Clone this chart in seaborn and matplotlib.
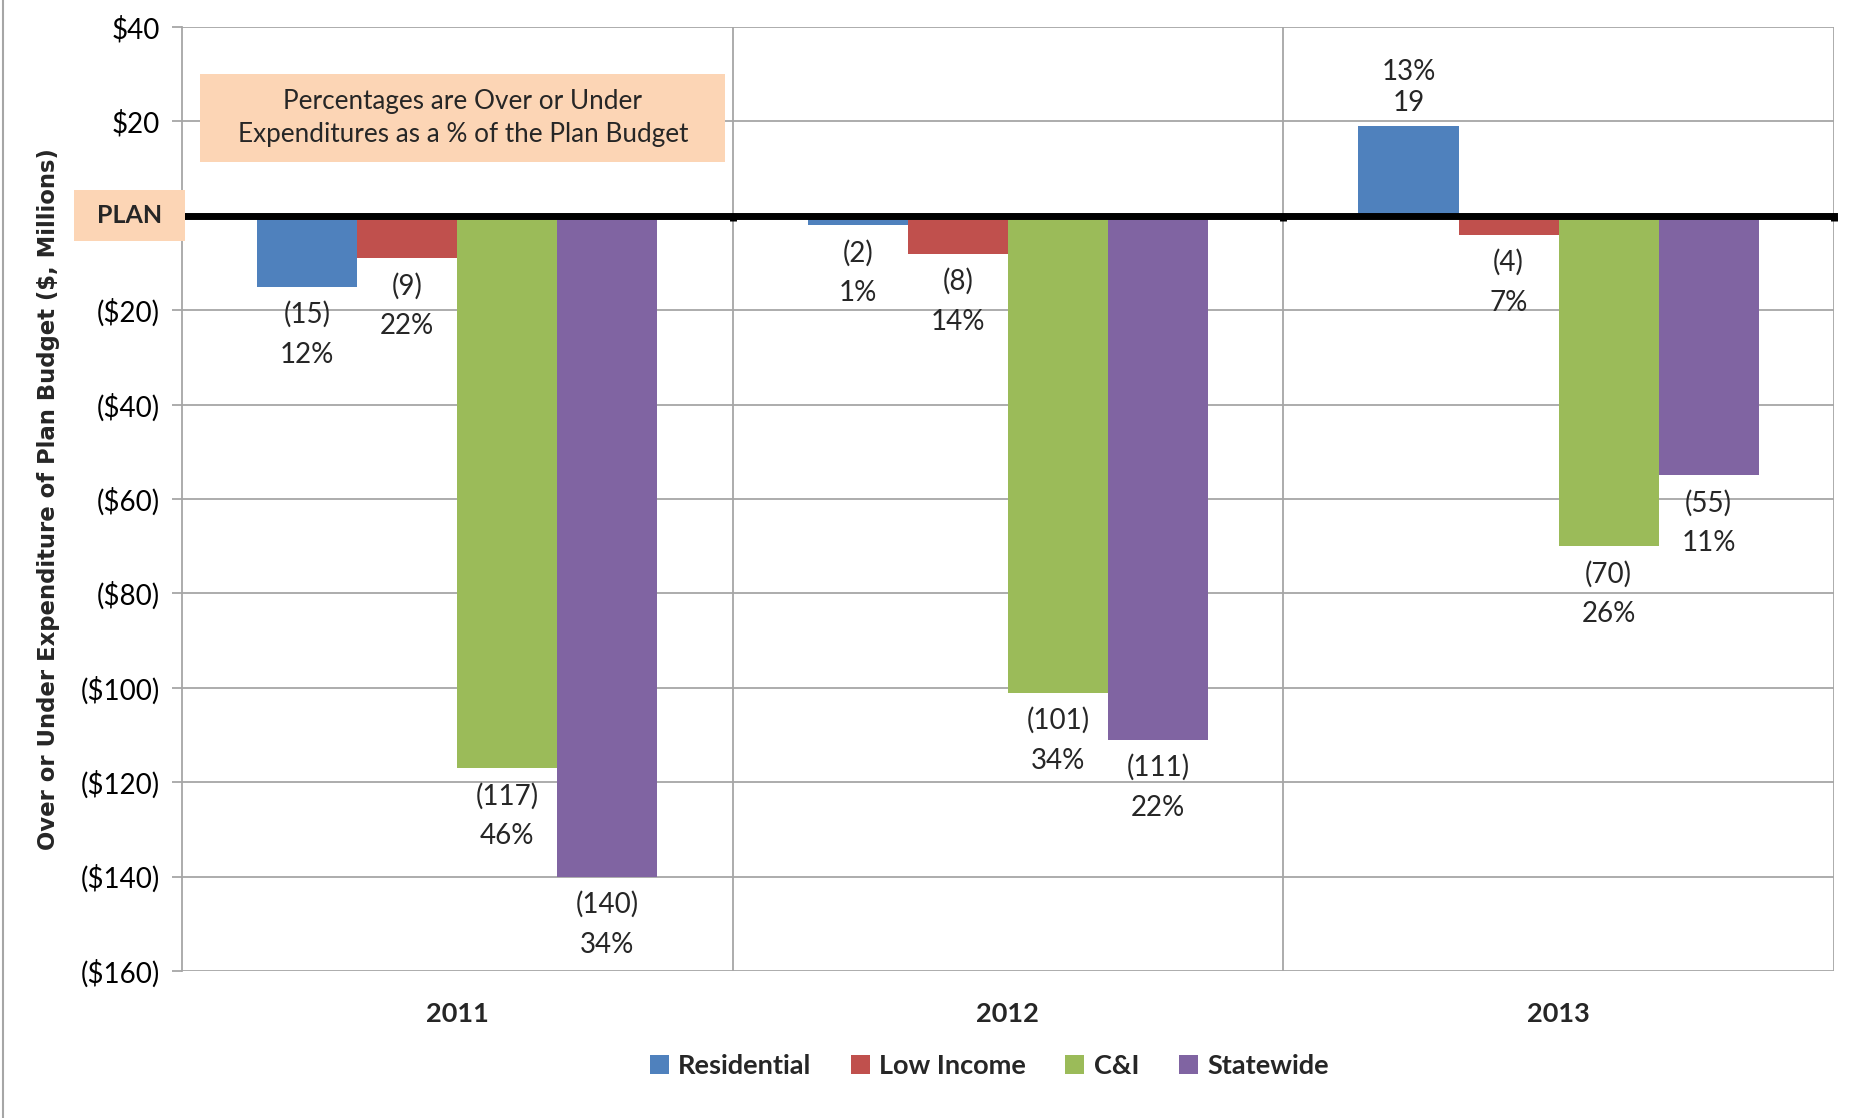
import numpy as np
import pandas as pd
import matplotlib
matplotlib.use("Agg")
import matplotlib.pyplot as plt
import matplotlib.transforms as mtransforms
from matplotlib.patches import Rectangle
from matplotlib.lines import Line2D
from matplotlib.ticker import FixedLocator, FuncFormatter
import seaborn as sns

# ---- data ($ millions over/under plan, and % of plan budget) ----
years = ["2011", "2012", "2013"]
sectors = ["Residential", "Low Income", "C&I", "Statewide"]
residential = [-15, -2, 19]
low_income = [-9, -8, -4]
c_and_i = [-117, -101, -70]
statewide = [-140, -111, -55]
residential_pct = [12, 1, 13]
low_income_pct = [22, 14, 7]
c_and_i_pct = [46, 34, 26]
statewide_pct = [34, 22, 11]
y_ticks = [-160, -140, -120, -100, -80, -60, -40, -20, 0, 20, 40]

colors = ["#4F81BD", "#C0504D", "#9BBB59", "#8064A2"]
note_text = "Percentages are Over or Under\nExpenditures as a % of the Plan Budget"
y_label = "Over or Under Expenditure of Plan Budget ($, Millions)"
plan_label = "PLAN"

values = [residential, low_income, c_and_i, statewide]
pcts = [residential_pct, low_income_pct, c_and_i_pct, statewide_pct]

rows = []
for sector, vals, pc in zip(sectors, values, pcts):
    for yr, v, p in zip(years, vals, pc):
        rows.append({"year": yr, "sector": sector, "value": v, "pct": p})
df = pd.DataFrame(rows)

sns.set_style("white")
plt.rcParams["font.family"] = ["Lato", "DejaVu Sans"]

fig = plt.figure(figsize=(18.7, 11.18), dpi=100)
ax = fig.add_axes([0.0973, 0.1315, 0.8834, 0.8443])

sns.barplot(data=df, x="year", y="value", hue="sector", order=years,
            hue_order=sectors, palette=colors, saturation=1, width=0.727,
            gap=0, errorbar=None, linewidth=0, ax=ax, zorder=2)

ax.set_xlim(-0.5, 2.5)
ax.set_ylim(-160, 40)
ax.set_xlabel("")
ax.set_ylabel("")

grid_col = "#A6A6A6"
label_size = 20

# y axis: dollar format with parentheses for negatives, blank at plan level
def money(v, _pos):
    v = int(round(v))
    if v == 0:
        return ""
    return f"${v}" if v > 0 else f"(${abs(v)})"

ax.yaxis.set_major_locator(FixedLocator(y_ticks))
ax.yaxis.set_major_formatter(FuncFormatter(money))
ax.tick_params(axis="y", which="major", direction="out", length=7, width=1.3,
               color=grid_col, labelsize=label_size, labelcolor="black", pad=9, left=True)
ax.yaxis.grid(True, color=grid_col, lw=1.3, zorder=0)

# x axis: thick plan line at zero with boundary ticks, category dividers
ax.spines["bottom"].set_position(("data", 0))
ax.spines["bottom"].set_linewidth(5)
ax.spines["bottom"].set_color("black")
ax.spines["bottom"].set_zorder(5)
ax.spines["left"].set_color(grid_col)
ax.spines["left"].set_linewidth(1.3)
ax.spines["top"].set_visible(False)
ax.spines["right"].set_visible(False)
ax.xaxis.set_minor_locator(FixedLocator([0.5, 1.5, 2.5]))
ax.tick_params(axis="x", which="major", length=0, labelbottom=False)
ax.tick_params(axis="x", which="minor", direction="out", length=3.5, width=5,
               color="black", bottom=True)
ax.grid(True, axis="x", which="minor", color=grid_col, lw=1.3)
ax.grid(False, axis="x", which="major")
ax.set_axisbelow(True)

# year labels along the bottom of the plot area
sec = ax.secondary_xaxis("bottom")
sec.set_xticks(range(len(years)), labels=years)
sec.spines["bottom"].set_visible(False)
sec.tick_params(axis="x", length=0, pad=22, labelsize=19.5)
for t in sec.get_xticklabels():
    t.set_fontweight("bold")

# value and percent labels
for cont, pc in zip(ax.containers, pcts):
    for bar, p in zip(cont, pc):
        v = bar.get_height()
        x = bar.get_x() + bar.get_width() / 2
        if v > 0:
            vtxt, off_v, off_p = f"{int(round(v))}", 17, 39
        else:
            vtxt, off_v, off_p = f"({int(round(abs(v)))})", -20, -49
        ax.annotate(vtxt, (x, v), xytext=(0, off_v), textcoords="offset points",
                    ha="center", va="center", fontsize=label_size, zorder=6)
        ax.annotate(f"{p}%", (x, v), xytext=(0, off_p), textcoords="offset points",
                    ha="center", va="center", fontsize=label_size, zorder=6)

# note box
ax.add_patch(Rectangle((0.0109, 0.857), 0.318, 0.0935, transform=ax.transAxes,
                       facecolor="#FCD5B5", edgecolor="none", zorder=4))
ax.text(0.17, 0.9035, note_text, transform=ax.transAxes, ha="center", va="center",
        fontsize=18.8, linespacing=1.4, zorder=5)

# PLAN marker at the zero line
blend = mtransforms.blended_transform_factory(ax.transAxes, ax.transData)
ax.add_patch(Rectangle((-0.0654, -5.3), 0.0672, 10.8, transform=blend,
                       facecolor="#FCD5B5", edgecolor="none", zorder=6, clip_on=False))
ax.text(-0.0318, 0, plan_label, transform=blend, ha="center", va="center",
        fontsize=18, fontweight="bold", zorder=7, clip_on=False)

# y axis title
fig.text(0.0257, 0.554, y_label, rotation=90, ha="center", va="center",
         fontsize=16.4, fontweight="bold", family="DejaVu Sans")

# legend
handles, labels = ax.get_legend_handles_labels()
if ax.get_legend() is not None:
    ax.get_legend().remove()
fig.legend(handles, labels, loc="center", bbox_to_anchor=(0.529, 0.0465),
           ncol=4, frameon=False, prop={"weight": "bold", "size": 19.5},
           handlelength=0.7, handleheight=0.7, handletextpad=0.35,
           columnspacing=1.45)

# chart frame edge on the left
fig.add_artist(Line2D([0.0016, 0.0016], [0, 1], transform=fig.transFigure,
                      color=grid_col, lw=1.5))

fig.savefig("out.png", dpi=100)
